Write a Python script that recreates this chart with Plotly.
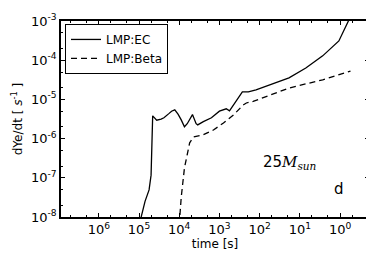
import plotly.graph_objects as go

# LMP:EC (solid)
ec_time = [93300, 70800, 56200, 50100, 45700, 39800, 36300, 28200, 24000, 17800,
           15500, 12900, 10700, 8910, 7410, 6310, 4680, 3800, 3470, 2510,
           1580, 1000, 676, 562, 380, 269, 191, 123, 18.6, 7.1,
           2.7, 1.07, 0.62, 0.5]
ec_rate = [8e-9, 2.5e-8, 4.9e-8, 1.17e-7, 3.8e-6, 3.16e-6, 2.95e-6, 3.16e-6, 3.4e-6, 4.4e-6,
           5.0e-6, 5.4e-6, 4.2e-6, 3.0e-6, 2.0e-6, 2.4e-6, 4.1e-6, 2.4e-6, 2.24e-6, 2.7e-6,
           3.4e-6, 5.0e-6, 5.75e-6, 5.1e-6, 8.9e-6, 1.55e-5, 1.55e-5, 1.74e-5, 3.55e-5, 6.3e-5,
           1.29e-4, 3.1e-4, 1.0e-3, 1.6e-3]

# LMP:Beta (dashed)
beta_time = [10000, 8910, 7410, 5500, 4370, 2510, 1410, 794, 447, 257, 214, 145, 18.6, 2.7, 0.55]
beta_rate = [6.3e-9, 3.2e-8, 1.78e-7, 7.8e-7, 1.1e-6, 1.26e-6, 1.66e-6, 2.5e-6, 4.0e-6,
             7.2e-6, 8.1e-6, 8.9e-6, 1.95e-5, 3.16e-5, 5.25e-5]

x_tickvals = [1e6, 1e5, 1e4, 1e3, 1e2, 1e1, 1e0]
x_ticktext = ["10<sup>6</sup>", "10<sup>5</sup>", "10<sup>4</sup>", "10<sup>3</sup>",
              "10<sup>2</sup>", "10<sup>1</sup>", "10<sup>0</sup>"]
y_tickvals = [1e-8, 1e-7, 1e-6, 1e-5, 1e-4, 1e-3]
y_ticktext = ["10<sup>-8</sup>", "10<sup>-7</sup>", "10<sup>-6</sup>", "10<sup>-5</sup>",
              "10<sup>-4</sup>", "10<sup>-3</sup>"]

fig = go.Figure()
fig.add_trace(go.Scatter(x=ec_time, y=ec_rate, mode="lines", name="LMP:EC",
                         line=dict(color="black", width=1.3)))
fig.add_trace(go.Scatter(x=beta_time, y=beta_rate, mode="lines", name="LMP:Beta",
                         line=dict(color="black", width=1.3, dash="6px,4px")))

axis_common = dict(showline=True, linecolor="black", linewidth=1.5, mirror="allticks",
                   ticks="inside", ticklen=4, tickcolor="black", showgrid=False,
                   zeroline=False, automargin=False,
                   minor=dict(ticks="inside", ticklen=2, tickcolor="black", showgrid=False),
                   tickfont=dict(family="DejaVu Sans", size=13, color="black"))

fig.update_xaxes(type="log", range=[6.94, -0.72], tickvals=x_tickvals, ticktext=x_ticktext,
                 title=dict(text="time [s]", font=dict(family="DejaVu Sans", size=12, color="black"),
                            standoff=2),
                 **axis_common)
fig.update_yaxes(type="log", range=[-8, -3], tickvals=y_tickvals, ticktext=y_ticktext,
                 title=dict(text="dYe/dt [ <i>s</i><sup>-1</sup> ]",
                            font=dict(family="DejaVu Sans", size=12, color="black"), standoff=6),
                 **axis_common)

fig.add_annotation(x=0.65, y=0.22, xref="paper", yref="paper", showarrow=False,
                   xanchor="left",
                   text="25<i style=\"font-family:'DejaVu Serif'\">M</i><sub><i style=\"font-family:'DejaVu Serif'\">sun</i></sub>",
                   font=dict(family="DejaVu Sans", size=15, color="black"))
fig.add_annotation(x=0.925, y=0.085, xref="paper", yref="paper", showarrow=False,
                   text="d", font=dict(family="DejaVu Sans", size=15, color="black"))

fig.update_layout(width=374, height=253, margin=dict(l=53, r=13, t=13, b=44),
                  paper_bgcolor="white", plot_bgcolor="white",
                  legend=dict(x=0.013, y=0.985, xanchor="left", yanchor="top",
                              bgcolor="white", bordercolor="black", borderwidth=1,
                              font=dict(family="DejaVu Sans", size=12, color="black"),
                              tracegroupgap=0, itemwidth=30))

fig.write_html("out.html")
